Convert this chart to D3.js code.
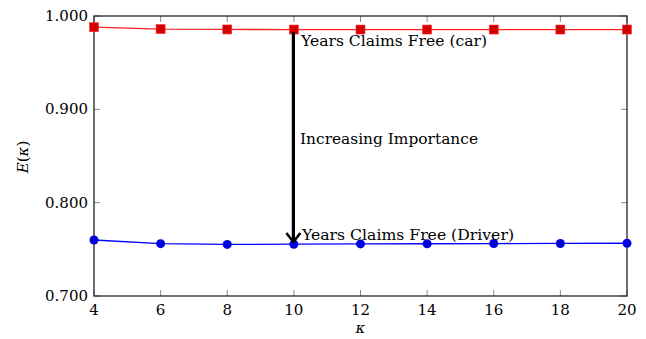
<!DOCTYPE html>
<html><head><meta charset="utf-8">
<script src="https://cdn.jsdelivr.net/npm/d3@7"></script>
<style>body{margin:0;background:#fff}svg{display:block}text{font-family:"DejaVu Serif",serif}</style>
</head><body><svg id="c" width="646" height="339"></svg>
<script>
const kappa = [4, 6, 8, 10, 12, 14, 16, 18, 20];
const carValues = [0.988, 0.986, 0.9856, 0.9855, 0.9855, 0.9855, 0.9855, 0.9855, 0.9855];
const driverValues = [0.760, 0.7561, 0.7553, 0.7555, 0.7558, 0.7560, 0.7562, 0.7563, 0.7565];
const xTicks = [4, 6, 8, 10, 12, 14, 16, 18, 20];
const yTicks = [0.7, 0.8, 0.9, 1.0];

const svg = d3.select("#c");
const L = 94, R = 627, T = 16, B = 296;
const x = d3.scaleLinear().domain([4, 20]).range([L, R]);
const y = d3.scaleLinear().domain([0.7, 1.0]).range([B, T]);
const fs = 15;

// ticks inward
const tg = svg.append("g").attr("stroke", "#888").attr("stroke-width", 1);
xTicks.forEach(t => {
  tg.append("line").attr("x1", x(t)).attr("x2", x(t)).attr("y1", B).attr("y2", B - 6);
  tg.append("line").attr("x1", x(t)).attr("x2", x(t)).attr("y1", T).attr("y2", T + 6);
});
yTicks.forEach(t => {
  tg.append("line").attr("x1", L).attr("x2", L + 6).attr("y1", y(t)).attr("y2", y(t));
  tg.append("line").attr("x1", R).attr("x2", R - 6).attr("y1", y(t)).attr("y2", y(t));
});
svg.append("rect").attr("x", L).attr("y", T).attr("width", R - L).attr("height", B - T)
  .attr("fill", "none").attr("stroke", "#222").attr("stroke-width", 1.3);

// tick labels
svg.append("g").selectAll("text").data(xTicks).join("text")
  .attr("x", d => x(d)).attr("y", B + 19).attr("text-anchor", "middle")
  .attr("font-size", fs).text(d => d);
svg.append("g").selectAll("text").data(yTicks).join("text")
  .attr("x", L - 6).attr("y", d => y(d) + 5).attr("text-anchor", "end")
  .attr("font-size", fs).text(d => d3.format(".3f")(d));

// axis labels
svg.append("text").attr("x", x(12)).attr("y", 333).attr("text-anchor", "middle")
  .attr("font-size", fs).attr("font-style", "italic").text("κ");
svg.append("text").attr("transform", `translate(28,${157}) rotate(-90)`)
  .attr("text-anchor", "middle").attr("font-size", fs)
  .html('<tspan font-style="italic">E</tspan>(<tspan font-style="italic">κ</tspan>)');

// lines
const line = d3.line().x((d, i) => x(kappa[i])).y(d => y(d));
svg.append("path").datum(carValues).attr("d", line).attr("fill", "none")
  .attr("stroke", "#ff2020").attr("stroke-width", 1.3);
svg.append("g").selectAll("rect").data(carValues).join("rect")
  .attr("x", (d, i) => x(kappa[i]) - 4.5).attr("y", d => y(d) - 4.5)
  .attr("width", 9).attr("height", 9).attr("fill", "#d40000").attr("stroke", "#ff3030").attr("stroke-width", 0.6);
svg.append("path").datum(driverValues).attr("d", line).attr("fill", "none")
  .attr("stroke", "#0000ff").attr("stroke-width", 1.3);
svg.append("g").selectAll("circle").data(driverValues).join("circle")
  .attr("cx", (d, i) => x(kappa[i])).attr("cy", d => y(d)).attr("r", 4.5)
  .attr("fill", "#0000e0");

// arrow
const ax = x(10) - 0.5;
svg.append("line").attr("x1", ax).attr("x2", ax).attr("y1", 32).attr("y2", 240)
  .attr("stroke", "#000").attr("stroke-width", 3.2);
svg.append("path").attr("d", `M${ax - 7},${233} L${ax},${242} L${ax + 7},${233}`)
  .attr("fill", "none").attr("stroke", "#000").attr("stroke-width", 2.6).attr("stroke-linejoin", "miter");

// annotations
svg.append("text").attr("x", 301).attr("y", 46).attr("font-size", fs)
  .attr("textLength", 186).attr("lengthAdjust", "spacingAndGlyphs").text("Years Claims Free (car)");
svg.append("text").attr("x", 300).attr("y", 144).attr("font-size", fs)
  .attr("textLength", 178).attr("lengthAdjust", "spacingAndGlyphs").text("Increasing Importance");
svg.append("text").attr("x", 302).attr("y", 240).attr("font-size", fs)
  .attr("textLength", 212).attr("lengthAdjust", "spacingAndGlyphs").text("Years Claims Free (Driver)");
</script></body></html>
